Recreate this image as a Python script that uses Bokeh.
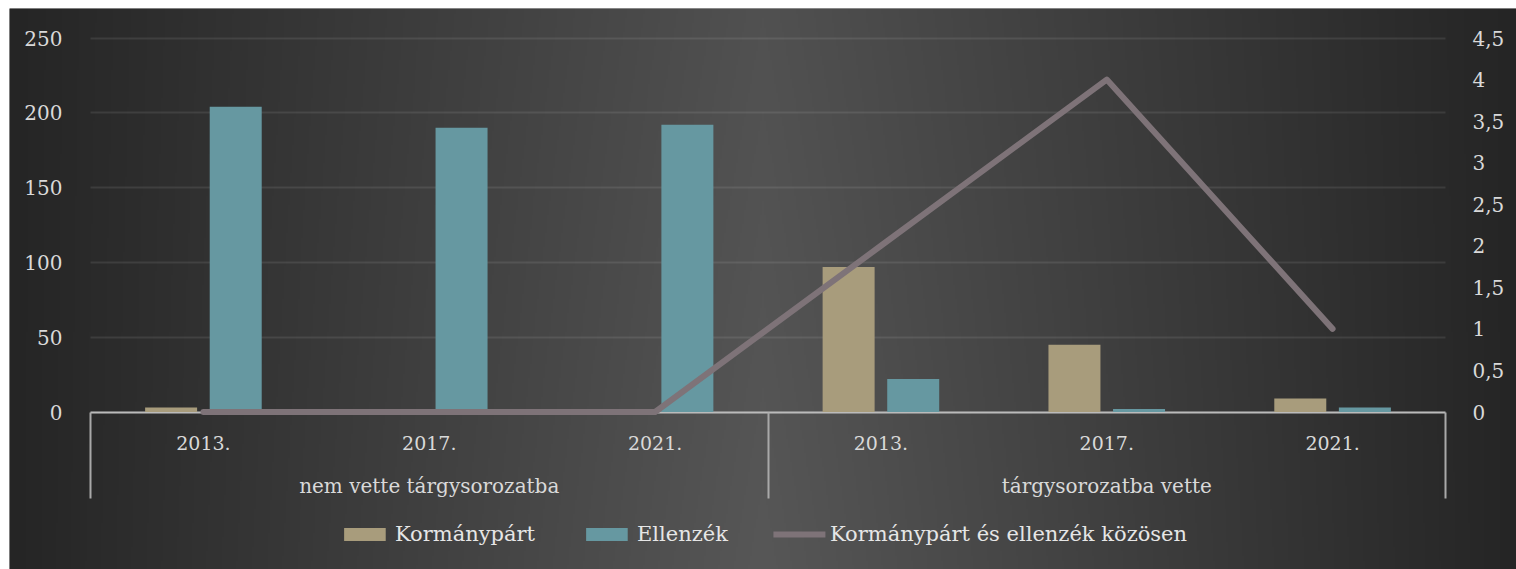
import numpy as np
from bokeh.plotting import figure
from bokeh.models import (Range1d, LinearAxis, FixedTicker, Legend, LegendItem, Grid)
from bokeh.embed import file_html
from bokeh.resources import INLINE

# ---------------- data ----------------
groups = ["nem vette tárgysorozatba", "tárgysorozatba vette"]
years = ["2013.", "2017.", "2021."]
kormanypart = [3, 0, 0, 97, 45, 9]
ellenzek = [204, 190, 192, 22, 2, 3]
kozosen = [0, 0, 0, 2, 4, 1]
left_ticks = [0, 50, 100, 150, 200, 250]
right_ticks = [0, 0.5, 1, 1.5, 2, 2.5, 3, 3.5, 4, 4.5]
right_labels = ["0", "0,5", "1", "1,5", "2", "2,5", "3", "3,5", "4", "4,5"]
series_names = ["Kormánypárt", "Ellenzék", "Kormánypárt és ellenzék közösen"]

# ---------------- layout ----------------
W, H = 1516, 569
FL, FT = 9, 8                     # chart area offset inside the figure
n_cat = len(groups) * len(years)
cat_px = (1445 - 90) / n_cat      # pixel width of one category
x_start = (FL - 90) / cat_px
x_end = (W - 90) / cat_px
ly_scale = (411.5 - 37.5) / 250.0
y_start = (411.5 - H) / ly_scale
y_end = (411.5 - FT) / ly_scale
ry_scale = (411.5 - 37.5) / 4.5
ry_start = (411.5 - H) / ry_scale
ry_end = (411.5 - FT) / ry_scale

FONT = "DejaVu Serif"
TXT = "#d9d9d9"
TAN = "#a89c7c"
TEAL = "#6698a1"
LINE = "#7e7378"

p = figure(width=W, height=H, x_range=Range1d(x_start, x_end),
           y_range=Range1d(y_start, y_end), x_axis_type=None, y_axis_type=None,
           output_backend="svg", toolbar_location=None,
           min_border_left=FL, min_border_top=FT, min_border_right=0,
           min_border_bottom=0,
           background_fill_color="#3a3a3a", border_fill_color="white",
           outline_line_color=None)
p.extra_y_ranges = {"right": Range1d(ry_start, ry_end)}

# background gradient (lighter in the middle)
nx, ny = 760, 120
gx = np.linspace(0, 1, nx)
gy = np.linspace(0, 1, ny)
hx = np.clip(1 - np.abs(gx - 0.5) / 0.5, 0, 1)
L = 37 + 50 * hx[None, :] * (0.88 + 0.12 * (1 - gy[:, None]))
img = np.empty((ny, nx), dtype=np.uint32)
v = img.view(dtype=np.uint8).reshape((ny, nx, 4))
v[..., 0] = L.astype(np.uint8)
v[..., 1] = L.astype(np.uint8)
v[..., 2] = L.astype(np.uint8)
v[..., 3] = 255
p.image_rgba(image=[img], x=x_start, y=y_start, dw=x_end - x_start,
             dh=y_end - y_start, level="image")

# grid
grid = Grid(dimension=1, ticker=FixedTicker(ticks=left_ticks),
            grid_line_color="white", grid_line_alpha=0.09, grid_line_width=2,
            cross_bounds=(0, n_cat))
p.add_layout(grid)

xc = np.arange(n_cat) + 0.5
bw = 52 / cat_px
off = 32.3 / cat_px
r1 = p.vbar(x=xc - off, top=kormanypart, bottom=0, width=bw, fill_color=TAN,
            line_color=None)
r2 = p.vbar(x=xc + off, top=ellenzek, bottom=0, width=bw, fill_color=TEAL,
            line_color=None)

# x axes (drawn inside the chart area at y = 0)
year_labels = {float(x): years[i % len(years)] for i, x in enumerate(xc)}
ax_years = LinearAxis(fixed_location=0, bounds=(0, n_cat),
                      ticker=FixedTicker(ticks=list(map(float, xc))),
                      major_label_overrides=year_labels,
                      axis_line_color="#b5b5b5", axis_line_width=2,
                      major_tick_line_color=None, minor_tick_line_color=None,
                      major_label_standoff=18, major_label_text_font=FONT,
                      major_label_text_font_size="19px",
                      major_label_text_color=TXT, level="underlay")
p.add_layout(ax_years, "below")

gcent = [len(years) * (i + 0.5) for i in range(len(groups))]
ax_groups = LinearAxis(fixed_location=0, bounds=(0, n_cat),
                       ticker=FixedTicker(ticks=gcent),
                       major_label_overrides={float(c): g for c, g in zip(gcent, groups)},
                       axis_line_color=None, major_tick_line_color=None,
                       minor_tick_line_color=None, major_label_standoff=56,
                       major_label_text_font=FONT, major_label_text_font_size="20px",
                       major_label_text_color=TXT)
p.add_layout(ax_groups, "below")

seps = [float(len(years) * i) for i in range(len(groups) + 1)]
ax_sep = LinearAxis(fixed_location=0, bounds=(-0.01, n_cat + 0.01),
                    ticker=FixedTicker(ticks=seps), axis_line_color=None,
                    major_tick_in=0, major_tick_out=86,
                    major_tick_line_color="#a9a9a9", major_tick_line_width=2,
                    minor_tick_line_color=None, major_label_text_color=None)
p.add_layout(ax_sep, "below")

# y axes
ax_left = LinearAxis(fixed_location=0, ticker=FixedTicker(ticks=left_ticks),
                     axis_line_color=None, major_tick_line_color=None,
                     minor_tick_line_color=None, major_label_standoff=22,
                     major_label_text_font=FONT, major_label_text_font_size="20px",
                     major_label_text_color=TXT)
p.add_layout(ax_left, "left")

ax_right = LinearAxis(y_range_name="right", fixed_location=n_cat,
                      ticker=FixedTicker(ticks=right_ticks),
                      major_label_overrides={float(t): s for t, s in zip(right_ticks, right_labels)},
                      axis_line_color=None, major_tick_line_color=None,
                      minor_tick_line_color=None, major_label_standoff=21,
                      major_label_text_font=FONT, major_label_text_font_size="20px",
                      major_label_text_color=TXT)
p.add_layout(ax_right, "right")

r3 = p.line(x=xc, y=kozosen, y_range_name="right", line_color=LINE,
            line_width=6, line_cap="round", line_join="round")

legend = Legend(items=[LegendItem(label=series_names[0], renderers=[r1]),
                       LegendItem(label=series_names[1], renderers=[r2]),
                       LegendItem(label=series_names[2], renderers=[r3])],
                orientation="horizontal", location="bottom_center",
                background_fill_alpha=0, border_line_color=None,
                label_text_color="#e6e6e6", label_text_font=FONT,
                label_text_font_size="21px", glyph_width=52, glyph_height=16,
                spacing=45, label_standoff=5, margin=23, padding=5)
p.add_layout(legend)

open("out.html", "w").write(file_html(p, INLINE))
